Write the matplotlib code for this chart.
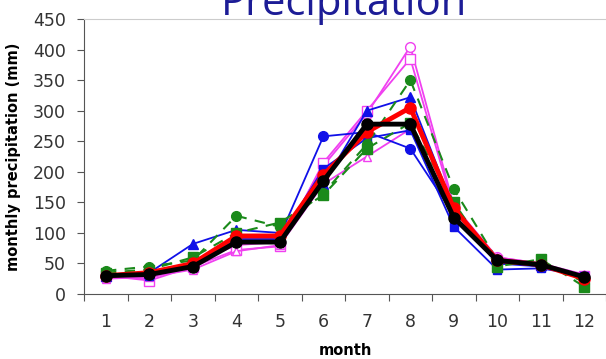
from matplotlib import pyplot as plt
import matplotlib

months = list(range(1, 13))
month_labels = [str(m) for m in months]

# thin ensemble members
blue_tri = [30, 35, 82, 105, 100, 180, 300, 322, 140, 50, 48, 25]
blue_circ = [30, 35, 50, 95, 95, 258, 265, 238, 130, 50, 45, 28]
blue_sq = [30, 30, 45, 90, 90, 205, 255, 268, 110, 40, 42, 30]
mag_circ = [28, 25, 50, 80, 85, 210, 295, 405, 145, 60, 50, 30]
mag_sq = [30, 22, 45, 72, 78, 215, 300, 385, 140, 55, 48, 30]
mag_tri = [25, 28, 40, 70, 80, 180, 225, 270, 135, 60, 50, 32]
green_circ = [38, 45, 55, 128, 110, 165, 245, 350, 172, 55, 50, 20]
green_sq = [35, 40, 60, 100, 117, 162, 238, 280, 150, 45, 57, 12]
# thick lines
red_mean = [30, 35, 50, 95, 95, 195, 265, 305, 140, 55, 48, 25]
black_obs = [30, 32, 45, 85, 85, 185, 278, 278, 125, 55, 48, 28]


def plot_precip():
    matplotlib.rc("font", family="DejaVu Sans")
    fig = plt.figure(figsize=(6.06, 3.59), dpi=100)
    ax = fig.add_axes([0.139, 0.181, 0.861, 0.766])

    blue = "#1010e8"
    mag = "#f040f0"
    green = "#1a8a1a"

    ax.plot(months, mag_circ, color=mag, lw=1.3, marker="o", ms=7, mfc="white", mec=mag)
    ax.plot(months, mag_sq, color=mag, lw=1.3, marker="s", ms=7, mfc="white", mec=mag)
    ax.plot(months, mag_tri, color=mag, lw=1.3, marker="^", ms=6, mfc="white", mec=mag)
    ax.plot(months, blue_tri, color=blue, lw=1.3, marker="^", ms=7)
    ax.plot(months, blue_circ, color=blue, lw=1.3, marker="o", ms=7)
    ax.plot(months, blue_sq, color=blue, lw=1.3, marker="s", ms=6)
    ax.plot(months, green_circ, color=green, lw=1.5, ls=(0, (5, 4)), marker="o", ms=7)
    ax.plot(months, green_sq, color=green, lw=1.5, ls=(0, (5, 4)), marker="s", ms=7)
    ax.plot(months, red_mean, color="red", lw=3.5, marker="o", ms=8)
    ax.plot(months, black_obs, color="black", lw=3.5, marker="o", ms=8)

    ax.set_xlim(0.5, 12.5)
    ax.set_ylim(0, 450)
    ax.set_yticks(range(0, 451, 50))
    ax.set_xticks([i + 0.5 for i in range(0, 13)])
    ax.set_xticklabels([])
    ax.set_xticks(months, minor=True)
    ax.set_xticklabels(month_labels, minor=True)
    ax.tick_params(axis="x", which="major", length=5, direction="out", color="#555555")
    ax.tick_params(axis="x", which="minor", length=0, pad=14, labelsize=12.5, labelcolor="#333333")
    ax.tick_params(axis="y", length=5, direction="out", pad=8, labelsize=12.5,
                   labelcolor="#333333", color="#555555")

    ax.spines["right"].set_visible(False)
    ax.spines["top"].set_color("#cccccc")
    ax.spines["left"].set_color("#555555")
    ax.spines["bottom"].set_color("#555555")

    ax.set_ylabel("monthly precipitation (mm)", fontsize=10.5, fontweight="bold", labelpad=9)
    ax.set_xlabel("month", fontsize=10.5, fontweight="bold", labelpad=8)

    fig.text(0.568, 0.958, "Precipitation", fontsize=30, color="#1c1c96",
             family="Open Sans", ha="center", va="baseline")

    plt.savefig("out.png", dpi=100)


if __name__ == "__main__":
    plot_precip()
